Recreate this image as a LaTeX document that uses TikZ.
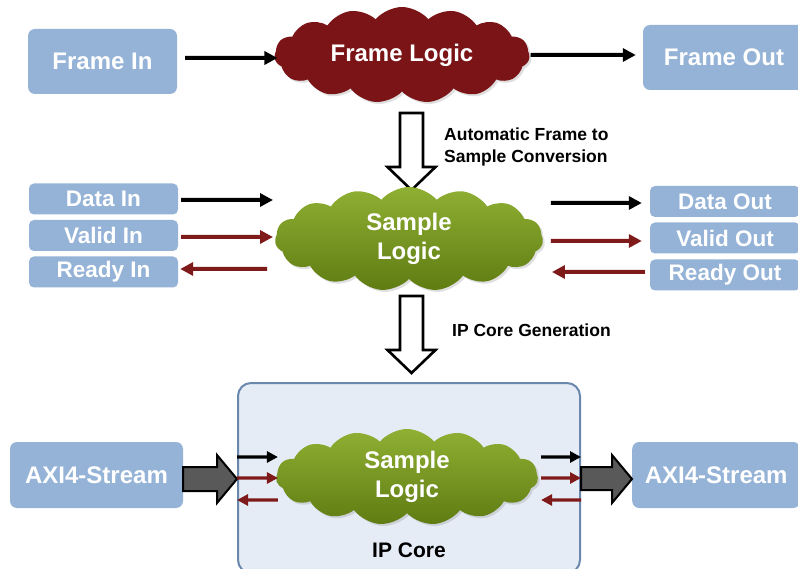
\documentclass[tikz,border=0pt]{standalone}
\usepackage{fontspec}
\setmainfont{Liberation Sans}
\usetikzlibrary{shapes.symbols,arrows.meta,shadows,calc}
\definecolor{boxblue}{HTML}{95B3D7}
\definecolor{cloudred}{HTML}{7A1416}
\definecolor{arrowred}{HTML}{7F1A1A}
\definecolor{ipfill}{HTML}{E6ECF5}
\definecolor{ipborder}{HTML}{6A88AE}
\definecolor{bigarrow}{HTML}{595959}
\definecolor{greentop}{HTML}{8FB033}
\definecolor{greenbot}{HTML}{5F7C12}
\tikzset{
  bluebox/.style={fill=boxblue, rounded corners=7pt, text=white, font=\bfseries\fontsize{24}{28}\selectfont, inner sep=0pt},
  smallbox/.style={fill=boxblue, rounded corners=5pt, text=white, font=\bfseries\fontsize{22.5}{26}\selectfont, inner sep=0pt, minimum width=149pt, minimum height=31pt},
  logiccloud/.style={cloud, cloud puffs=15, cloud puff arc=100, cloud ignores aspect, inner sep=0pt, text=white, align=center, font=\bfseries\fontsize{24}{29}\selectfont, drop shadow={opacity=0.25, shadow xshift=2pt, shadow yshift=-2pt}},
  redcloud/.style={logiccloud, fill=cloudred},
  greencloud/.style={logiccloud, top color=greentop, bottom color=greenbot},
  blk/.style={line width=4pt, -{Triangle[length=13pt,width=13pt]}, black},
  red/.style={line width=4pt, -{Triangle[length=13pt,width=13pt]}, arrowred},
  sblk/.style={line width=3.2pt, -{Triangle[length=11pt,width=11pt]}, black},
  sred/.style={line width=3.2pt, -{Triangle[length=11pt,width=11pt]}, arrowred},
  hollow/.style={draw=black, fill=white, line width=2.6pt, line join=miter},
  grayarrow/.style={draw=black, fill=bigarrow, line width=2pt, line join=miter},
  lbl/.style={font=\bfseries\fontsize{17.5}{22}\selectfont, align=left, inner sep=0pt}
}
\begin{document}
\begin{tikzpicture}[x=1pt,y=-1pt]
\clip (0,0) rectangle (798,569);
\fill[white] (0,0) rectangle (798,569);

% IP core container
\node[draw=ipborder, fill=ipfill, line width=2pt, rounded corners=13pt, minimum width=342pt, minimum height=190pt, inner sep=0pt] (IP) at (409,478) {};
\node[font=\bfseries\fontsize{21}{25}\selectfont, inner sep=0pt] (IPL) at (409,550) {IP Core};

% top row
\node[bluebox, minimum width=149pt, minimum height=65pt] (FI) at (102.5,61.5) {Frame In};
\node[redcloud, minimum width=255pt, minimum height=96pt] (FL) at (402,55) {Frame Logic};
\node[bluebox, minimum width=162pt, minimum height=65pt] (FO) at (724,57.5) {Frame Out};
\draw[blk] ([shift={(8,-3.5)}]FI.east) -- ([shift={(3,3)}]FL.west);
\draw[blk] ([shift={(1,0)}]FL.east) -- ([shift={(-7,-2.5)}]FO.west);

% first hollow arrow
\coordinate (A1) at (411.5,113);
\draw[hollow] (A1) ++(-11.5,0) -- ++(0,54) -- ++(-12.5,0) -- ++(24,23) -- ++(24,-23) -- ++(-12.5,0) -- ++(0,-54) -- cycle;
\node[lbl, anchor=west] (T1) at (444,147) {Automatic Frame to\\Sample Conversion};

% middle row
\node[smallbox] (DI) at (103.5,199) {Data In};
\node[smallbox] (VI) at (103.5,235.5) {Valid In};
\node[smallbox] (RI) at (103.5,272) {Ready In};
\node[greencloud, minimum width=268pt, minimum height=104pt] (SL) at (409,239) {Sample\\Logic};
\node[smallbox, minimum width=150pt] (DO) at (725,201.5) {Data Out};
\node[smallbox, minimum width=150pt] (VO) at (725,238) {Valid Out};
\node[smallbox, minimum width=150pt] (RO) at (725,275) {Ready Out};

\draw[blk] ([shift={(3,1)}]DI.east) -- ([shift={(-2,-39)}]SL.west);
\draw[red] ([shift={(3,1.5)}]VI.east) -- ([shift={(-2,-2)}]SL.west);
\draw[red] ([shift={(-8,30)}]SL.west) -- ([shift={(2,-3)}]RI.east);
\draw[blk] ([shift={(8,-36)}]SL.east) -- ([shift={(-8,1.5)}]DO.west);
\draw[red] ([shift={(8,2)}]SL.east) -- ([shift={(-8,3)}]VO.west);
\draw[red] ([shift={(-5,-3)}]RO.west) -- ([shift={(9,33)}]SL.east);

% second hollow arrow
\coordinate (A2) at (411.5,296);
\draw[hollow] (A2) ++(-11.5,0) -- ++(0,54) -- ++(-12.5,0) -- ++(24,23) -- ++(24,-23) -- ++(-12.5,0) -- ++(0,-54) -- cycle;
\node[lbl, anchor=west] (T2) at (452,330) {IP Core Generation};

% bottom row
\node[bluebox, minimum width=173pt, minimum height=66pt] (AL) at (96.5,475) {AXI4-Stream};
\node[bluebox, minimum width=168pt, minimum height=66pt, anchor=west] (AR) at (632,475) {AXI4-Stream};
\node[greencloud, minimum width=262pt, minimum height=96pt] (ISL) at (407,477) {Sample\\Logic};

\draw[grayarrow] (AL.east |- 0,467) -- (217,467) -- (217,455) -- (IP.west |- 0,479) -- (217,503) -- (217,491) -- (AL.east |- 0,491) -- cycle;
\draw[grayarrow] (IP.east |- 0,467) -- (612,467) -- (612,455) -- (AR.west |- 0,479) -- (612,503) -- (612,490) -- (IP.east |- 0,490) -- cycle;

\draw[sblk] (IP.west |- 0,457) -- ([shift={(2,-20)}]ISL.west);
\draw[sred] (IP.west |- 0,478) -- ([shift={(2,1)}]ISL.west);
\draw[sred] ([shift={(2,23)}]ISL.west) -- (IP.west |- 0,500);
\draw[sblk] ([shift={(3,-20)}]ISL.east) -- (IP.east |- 0,457);
\draw[sred] ([shift={(3,1)}]ISL.east) -- (IP.east |- 0,478);
\draw[sred] (IP.east |- 0,500) -- ([shift={(3,23)}]ISL.east);
\end{tikzpicture}
\end{document}
